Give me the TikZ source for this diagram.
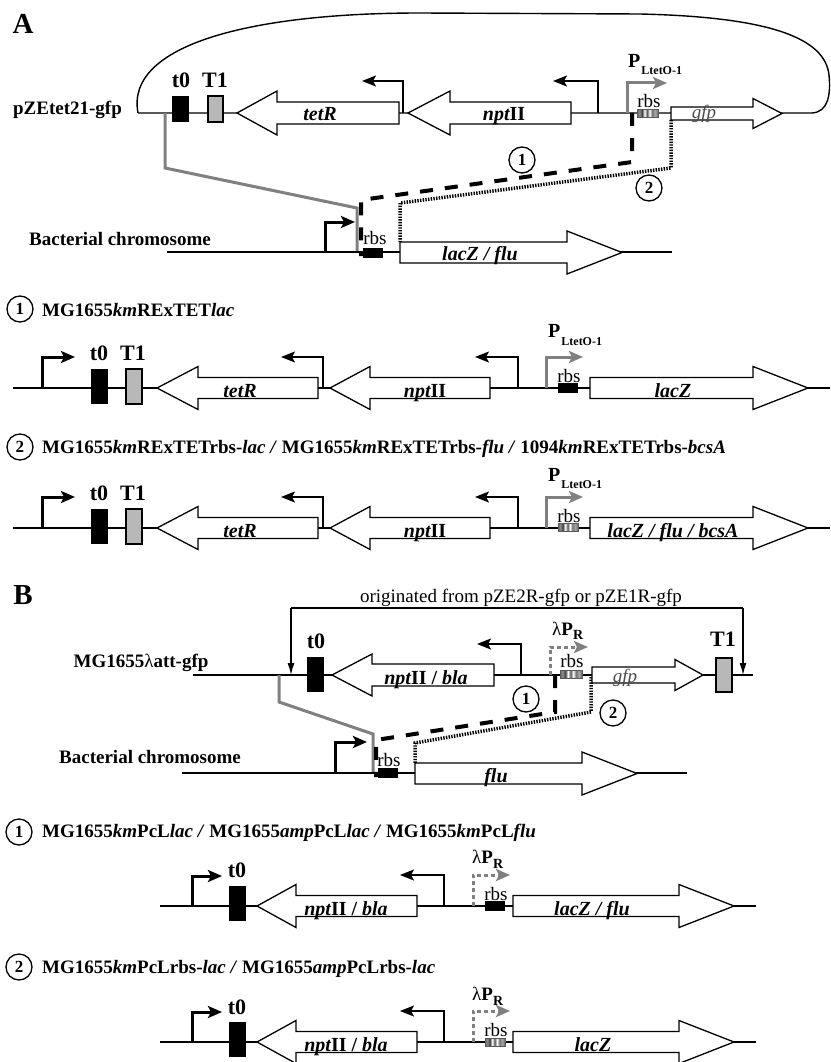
\documentclass[tikz,border=0pt]{standalone}
\usepackage{fontspec}
\setmainfont{Liberation Serif}
\usetikzlibrary{arrows.meta}
\definecolor{tgray}{gray}{0.5}
\definecolor{boxgray}{gray}{0.72}
\pgfdeclarehorizontalshading{rbsshade}{100bp}{color(0bp)=(black!60); color(25bp)=(black!60); color(31bp)=(black!45); color(37bp)=(black!75); color(43bp)=(white); color(49bp)=(black!65); color(55bp)=(white); color(61bp)=(black!55); color(68bp)=(black!35); color(75bp)=(black!60); color(100bp)=(black!60)}
% right-pointing gene: xstart, xhead, xtip, y, bodyhalf, headhalf
\newcommand{\myGeneR}[6]{\draw[genebox] (#1,#4-#5) -- (#2,#4-#5) -- (#2,#4-#6) -- (#3,#4) -- (#2,#4+#6) -- (#2,#4+#5) -- (#1,#4+#5) -- cycle;}
% left-pointing gene: xtip, xhead, xend, y, bodyhalf, headhalf
\newcommand{\myGeneL}[6]{\draw[genebox] (#3,#4-#5) -- (#2,#4-#5) -- (#2,#4-#6) -- (#1,#4) -- (#2,#4+#6) -- (#2,#4+#5) -- (#3,#4+#5) -- cycle;}
% striped rbs: x1, x2, y
\newcommand{\myRbsS}[3]{\shadedraw[shading=rbsshade, draw=black!65, line width=0.6pt] (#1,#3-4) rectangle (#2,#3+4);}
% black rbs
\newcommand{\myRbsB}[3]{\fill (#1,#3-5) rectangle (#2,#3+5);}
\begin{document}
\begin{tikzpicture}[x=1pt,y=-1pt,
  dna/.style={line width=1.4pt},
  genebox/.style={draw, line width=1.3pt, fill=white, line join=miter},
  grbox/.style={draw, line width=1.3pt, fill=boxgray},
  promthin/.style={line width=1.4pt, -{Stealth[length=14pt,width=11pt,inset=3pt]}},
  promthick/.style={line width=3pt, -{Stealth[length=14pt,width=12pt,inset=3pt]}},
  promgray/.style={line width=3pt, draw=tgray, -{Stealth[length=14pt,width=12pt,inset=3pt]}},
  promlam/.style={line width=3pt, draw=tgray, dash pattern=on 4pt off 3pt, -{Stealth[length=14pt,width=12pt,inset=3pt]}},
  xgray/.style={line width=3pt, draw=tgray},
  xdash/.style={line width=4pt, dash pattern=on 13pt off 12pt},
  xdot/.style={line width=3.5pt, dash pattern=on 1.4pt off 1.3pt},
  bracket/.style={line width=1.3pt, -{Latex[length=12pt,width=7pt]}},
  numcirc/.style={circle, draw, line width=1.3pt, inner sep=0pt, minimum size=26pt, font=\bfseries\fontsize{17}{17}\selectfont},
  lab/.style={font=\bfseries\fontsize{19}{22}\selectfont, inner sep=0pt},
  head/.style={font=\bfseries\fontsize{19}{22}\selectfont, inner sep=0pt, anchor=base west},
  tlab/.style={font=\bfseries\fontsize{22}{22}\selectfont, inner sep=0pt},
  glab/.style={font=\bfseries\itshape\fontsize{20}{22}\selectfont, inner sep=0pt, anchor=base},
  gfplab/.style={font=\itshape\fontsize{19}{22}\selectfont, text=black!70, inner sep=0pt, anchor=base},
  rbslab/.style={font=\fontsize{19}{20}\selectfont, inner sep=0pt},
  plab/.style={font=\bfseries\fontsize{20}{20}\selectfont, inner sep=0pt, anchor=base west},
  lamlab/.style={font=\fontsize{19}{20}\selectfont, inner sep=0pt, anchor=base west},
  panel/.style={font=\bfseries\fontsize{29}{29}\selectfont, inner sep=0pt}
]
\fill[white] (0,0) rectangle (830,1062);
\useasboundingbox (0,0) rectangle (830,1062);

% ================= PANEL A =================
\node[panel] (PA) at (23,24) {A};
\node[lab, anchor=base] (Aname) at (67.5,115) {pZEtet21-gfp};
% plasmid backbone and loop
\coordinate (Aleft) at (138,113);
\coordinate (Aright) at (812,113);
\draw[dna] (Aleft) -- (Aright) .. controls (828,112) and (831,95) .. (829,75) .. controls (825,38) and (770,17) .. (640,14) -- (420,13) .. controls (250,13) and (125,45) .. (Aleft);
% crossover lines
\coordinate (Ag1) at (165,113);
\coordinate (Ag2) at (357,252);
\draw[xgray] (Ag1) -- (165,168) -- (357,208) -- (Ag2);
\coordinate (Ad1) at (632,113);
\coordinate (Ad2) at (361,256);
\draw[xdash] (Ad1) -- (632,162) -- (361,200) -- (Ad2);
\coordinate (At1) at (671,120);
\coordinate (At2) at (400,242);
\draw[xdot] (At1) -- (671,168) -- (400,203) -- (At2);
\node[numcirc] (Ac1) at (522,160) {1};
\node[numcirc] (Ac2) at (649,188) {2};
% elements
\fill (172,96) rectangle (189,122);
\draw[grbox] (208,96) rectangle (223,122);
\node[tlab] (At0) at (181,80) {t0};
\node[tlab] (AT1) at (215,80) {T1};
\myGeneL{237}{277}{399}{113}{11}{22}
\node[glab] (AtetR) at (320,121) {tetR};
\coordinate (Ap1) at (403,113);
\draw[promthin] (Ap1) |- (362,81);
\myGeneL{408}{450}{571}{113}{11}{22}
\node[glab] (Anpt) at (504,121) {npt\upshape II};
\coordinate (Ap2) at (598,113);
\draw[promthin] (Ap2) |- (553,81);
\coordinate (Ap3) at (627,113);
\draw[promgray] (Ap3) |- (667,83);
\node[plab] (APl) at (628,68) {P\kern1pt\raisebox{-7pt}{\fontsize{12}{12}\selectfont LtetO-1}};
\myRbsS{637}{658}{113.5}
\node[rbslab] (Arbs) at (649,101) {rbs};
\myGeneR{671}{753}{782}{113.5}{6.5}{15}
\node[gfplab] (Agfp) at (704,119) {gfp};
% chromosome
\node[lab, anchor=base] (Achr) at (120,245) {Bacterial chromosome};
\draw[dna] (167,252) -- (672,252);
\coordinate (Acp) at (325,252);
\draw[promthick] (Acp) |- (355,222);
\myRbsB{363}{383}{253}
\node[rbslab] (Acrbs) at (375,238) {rbs};
\myGeneR{400}{567}{622}{252.5}{10.5}{21.5}
\node[glab] (Alac) at (480,260) {lacZ / flu};

% ---- A row 1 ----
\node[numcirc] (A1c) at (20,309) {1};
\node[head] (A1h) at (42,316) {MG1655\textit{km}RExTET\textit{lac}};
\draw[dna] (13,388) -- (830,388);
\coordinate (A1p0) at (42,388);
\draw[promthick] (A1p0) |- (75,357);
\fill (91,369) rectangle (108,404);
\draw[grbox] (126,369) rectangle (142,404);
\node[tlab] (A1t0) at (99,353) {t0};
\node[tlab] (A1T1) at (133,353) {T1};
\myGeneL{157}{198}{318}{388}{10.5}{21.5}
\node[glab] (A1tet) at (240,397) {tetR};
\coordinate (A1p1) at (323,388);
\draw[promthin] (A1p1) |- (281,357);
\myGeneL{330}{370}{490}{388}{10.5}{21.5}
\node[glab] (A1npt) at (425,397) {npt\upshape II};
\coordinate (A1p2) at (518,388);
\draw[promthin] (A1p2) |- (475,357);
\coordinate (A1p3) at (546,388);
\draw[promgray] (A1p3) |- (583,357);
\node[plab] (A1Pl) at (548,337) {P\kern1pt\raisebox{-8pt}{\fontsize{12}{12}\selectfont LtetO-1}};
\myRbsB{558}{578}{388}
\node[rbslab] (A1rbs) at (569,376) {rbs};
\myGeneR{590}{753}{808}{388}{10.5}{21.5}
\node[glab] (A1lac) at (673,397) {lacZ};

% ---- A row 2 ----
\node[numcirc] (A2c) at (20,447) {2};
\node[head] (A2h) at (42,453) {MG1655\textit{km}RExTETrbs-\textit{lac / }MG1655\textit{km}RExTETrbs-\textit{flu / }1094\textit{km}RExTETrbs-\textit{bcsA}};
\draw[dna] (13,528) -- (830,528);
\coordinate (A2p0) at (42,528);
\draw[promthick] (A2p0) |- (75,497);
\fill (91,509) rectangle (108,544);
\draw[grbox] (126,509) rectangle (142,544);
\node[tlab] (A2t0) at (99,493) {t0};
\node[tlab] (A2T1) at (133,493) {T1};
\myGeneL{157}{198}{318}{528}{10.5}{21.5}
\node[glab] (A2tet) at (240,537) {tetR};
\coordinate (A2p1) at (323,528);
\draw[promthin] (A2p1) |- (281,497);
\myGeneL{330}{370}{490}{528}{10.5}{21.5}
\node[glab] (A2npt) at (425,537) {npt\upshape II};
\coordinate (A2p2) at (518,528);
\draw[promthin] (A2p2) |- (475,497);
\coordinate (A2p3) at (546,528);
\draw[promgray] (A2p3) |- (583,497);
\node[plab] (A2Pl) at (548,481) {P\kern1pt\raisebox{-7pt}{\fontsize{12}{12}\selectfont LtetO-1}};
\myRbsS{558}{578}{527.5}
\node[rbslab] (A2rbs) at (569,516) {rbs};
\myGeneR{590}{753}{808}{528}{10.5}{21.5}
\node[glab] (A2lac) at (673,537) {lacZ / flu / bcsA};

% ================= PANEL B =================
\node[panel] (PB) at (23,595) {B};
\node[font=\fontsize{19}{22}\selectfont, inner sep=0pt, anchor=base] (Borig) at (521,602) {originated from pZE2R-gfp or pZE1R-gfp};
\node[lab, anchor=base] (Bname) at (141,667) {MG1655{\mdseries λ}att-gfp};
\coordinate (Bl) at (193,675);
\coordinate (Br) at (753,675);
\draw[dna] (Bl) -- (Br);
\coordinate (Bbl) at (291,675);
\coordinate (Bbr) at (743,675);
\coordinate (Bbtl) at (291,608);
\coordinate (Bbtr) at (743,608);
\draw[bracket] (Bbtl) -- (Bbl);
\draw[dna] (Bbtl) -- (Bbtr);
\draw[bracket] (Bbtr) -- (Bbr);
% crossover lines
\coordinate (Bg1) at (279,675);
\coordinate (Bg2) at (373,773);
\draw[xgray] (Bg1) -- (279,702) -- (373,734) -- (Bg2);
\coordinate (Bd1) at (555,675);
\coordinate (Bd2) at (376,777);
\draw[xdash] (Bd1) -- (555,712) -- (376,740) -- (Bd2);
\coordinate (Bt1) at (591,677);
\coordinate (Bt2) at (415,763);
\draw[xdot] (Bt1) -- (591,712) -- (415,743) -- (Bt2);
\node[numcirc] (Bc1) at (526,699) {1};
\node[numcirc] (Bc2) at (613,713) {2};
% elements
\fill (307,657) rectangle (324,692);
\node[tlab] (Bt0) at (316,641) {t0};
\myGeneL{332}{372}{494}{675}{11}{21}
\node[glab] (Bnpt) at (426,684) {npt\upshape II / \itshape bla};
\coordinate (Bp1) at (521,675);
\draw[promthin] (Bp1) |- (477,644);
\coordinate (Bp2) at (550,675);
\draw[promlam] (Bp2) |- (588,647);
\node[lamlab] (Blam) at (552,635) {λ\textbf{P}\raisebox{-4pt}{\fontsize{14}{14}\selectfont\bfseries R}};
\myRbsS{560}{582}{674.5}
\node[rbslab] (Brbs) at (572,661) {rbs};
\myGeneR{592}{675}{703}{675}{8}{15.5}
\node[gfplab] (Bgfp) at (625,682) {gfp};
\draw[grbox] (716,658) rectangle (732,692);
\node[tlab] (BT1) at (723,639) {T1};
% chromosome
\node[lab, anchor=base] (Bchr) at (150,763) {Bacterial chromosome};
\draw[dna] (182,773) -- (687,773);
\coordinate (Bcp) at (335,773);
\draw[promthick] (Bcp) |- (367,742);
\myRbsB{378}{398}{773}
\node[rbslab] (Bcrbs) at (389,760) {rbs};
\myGeneR{415}{582}{637}{773.5}{10.5}{21.5}
\node[glab] (Bflu) at (496,782) {flu};

% ---- B row 1 ----
\node[numcirc] (B1c) at (19,832) {1};
\node[head] (B1h) at (42,837) {MG1655\textit{km}PcL\textit{lac / }MG1655\textit{amp}PcL\textit{lac / }MG1655\textit{km}PcL\textit{flu}};
\draw[dna] (160,906) -- (756,906);
\coordinate (B1p0) at (192,906);
\draw[promthick] (B1p0) |- (222,876);
\fill (229,886) rectangle (246,921);
\node[tlab] (B1t0) at (237,870) {t0};
\myGeneL{257}{296}{417}{906}{10.5}{21.5}
\node[glab] (B1npt) at (346,915) {npt\upshape II / \itshape bla};
\coordinate (B1p1) at (444,906);
\draw[promthin] (B1p1) |- (400,875);
\coordinate (B1p2) at (473,906);
\draw[promlam] (B1p2) |- (510,875);
\node[lamlab] (B1lam) at (472,863) {λ\textbf{P}\raisebox{-5pt}{\fontsize{14}{14}\selectfont\bfseries R}};
\myRbsB{485}{505}{906}
\node[rbslab] (B1rbs) at (496,894) {rbs};
\myGeneR{513}{679}{734}{906}{10.5}{21.5}
\node[glab] (B1lac) at (592,915) {lacZ / flu};

% ---- B row 2 ----
\node[numcirc] (B2c) at (19,967) {2};
\node[head] (B2h) at (42,973) {MG1655\textit{km}PcLrbs-\textit{lac / }MG1655\textit{amp}PcLrbs-\textit{lac}};
\draw[dna] (160,1042) -- (756,1042);
\coordinate (B2p0) at (192,1042);
\draw[promthick] (B2p0) |- (222,1012);
\fill (229,1022) rectangle (246,1057);
\node[tlab] (B2t0) at (237,1007) {t0};
\myGeneL{257}{296}{417}{1042}{10.5}{21.5}
\node[glab] (B2npt) at (346,1051) {npt\upshape II / \itshape bla};
\coordinate (B2p1) at (444,1042);
\draw[promthin] (B2p1) |- (400,1011);
\coordinate (B2p2) at (473,1042);
\draw[promlam] (B2p2) |- (510,1011);
\node[lamlab] (B2lam) at (472,1000) {λ\textbf{P}\raisebox{-5pt}{\fontsize{14}{14}\selectfont\bfseries R}};
\myRbsS{485}{505}{1042}
\node[rbslab] (B2rbs) at (496,1030) {rbs};
\myGeneR{513}{679}{734}{1042}{10.5}{21.5}
\node[glab] (B2lac) at (593,1051) {lacZ};
\end{tikzpicture}
\end{document}
